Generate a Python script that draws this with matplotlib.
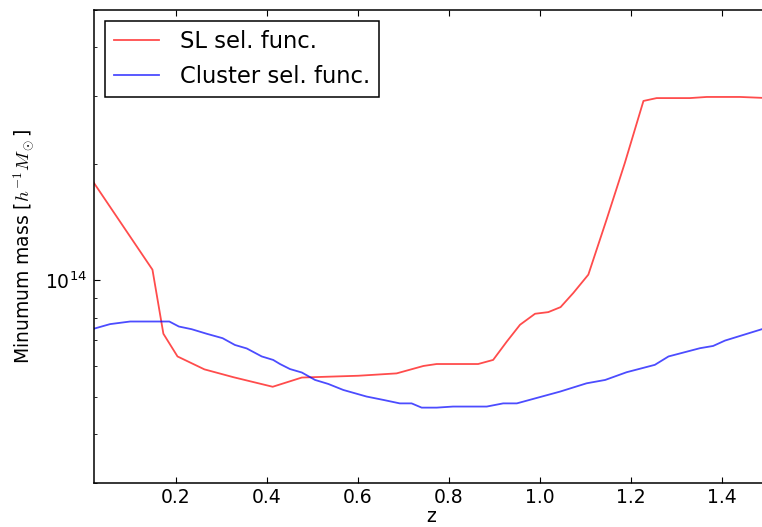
import matplotlib
matplotlib.use("Agg")
import matplotlib.pyplot as plt
from matplotlib.ticker import NullFormatter, LogLocator

# ---- data ----
z_sl = [0.02, 0.149, 0.173, 0.204, 0.263, 0.327, 0.413, 0.477, 0.539, 0.601,
        0.685, 0.744, 0.773, 0.864, 0.897, 0.927, 0.956, 0.989, 1.018, 1.045,
        1.073, 1.106, 1.146, 1.186, 1.227, 1.256, 1.329, 1.366, 1.439, 1.5]
m_sl = [1.79e14, 1.066e14, 7.28e13, 6.36e13, 5.89e13, 5.62e13, 5.31e13, 5.61e13, 5.64e13, 5.67e13,
        5.75e13, 6.01e13, 6.08e13, 6.08e13, 6.23e13, 6.95e13, 7.68e13, 8.20e13, 8.28e13, 8.53e13,
        9.28e13, 1.035e14, 1.436e14, 2.01e14, 2.91e14, 2.96e14, 2.96e14, 2.98e14, 2.98e14, 2.96e14]

z_cl = [0.02, 0.056, 0.100, 0.186, 0.207, 0.235, 0.268, 0.303, 0.330, 0.356,
        0.389, 0.414, 0.429, 0.451, 0.477, 0.506, 0.535, 0.568, 0.619, 0.656,
        0.692, 0.718, 0.740, 0.773, 0.809, 0.883, 0.919, 0.949, 0.985, 1.044,
        1.102, 1.143, 1.190, 1.252, 1.282, 1.351, 1.380, 1.406, 1.487, 1.5]
m_cl = [7.50e13, 7.71e13, 7.83e13, 7.83e13, 7.60e13, 7.48e13, 7.28e13, 7.09e13, 6.81e13, 6.67e13,
        6.36e13, 6.23e13, 6.08e13, 5.90e13, 5.78e13, 5.53e13, 5.40e13, 5.21e13, 5.01e13, 4.91e13,
        4.81e13, 4.81e13, 4.69e13, 4.69e13, 4.72e13, 4.72e13, 4.81e13, 4.81e13, 4.94e13, 5.16e13,
        5.42e13, 5.53e13, 5.79e13, 6.05e13, 6.36e13, 6.68e13, 6.77e13, 6.99e13, 7.48e13, 7.55e13]

labels = ["SL sel. func.", "Cluster sel. func."]
x_ticks = [0.2, 0.4, 0.6, 0.8, 1.0, 1.2, 1.4]

plt.rcParams.update({
    "font.family": "DejaVu Sans",
    "font.size": 13.5,
    "mathtext.fontset": "cm",
    "xtick.direction": "in",
    "ytick.direction": "in",
    "xtick.top": True,
    "ytick.right": True,
    "xtick.major.size": 4.5,
    "ytick.major.size": 4.5,
    "xtick.minor.size": 2.3,
    "ytick.minor.size": 2.3,
    "xtick.major.pad": 4,
    "ytick.major.pad": 5,
    "axes.linewidth": 1.1,
})

fig = plt.figure(figsize=(7.62, 5.27), dpi=100)
fig.patch.set_facecolor("white")
ax = fig.add_axes([93.7 / 762, 44.3 / 527, 674.1 / 762, 472.7 / 527])

ax.plot(z_sl, m_sl, color="r", alpha=0.7, lw=1.3, label=labels[0])
ax.plot(z_cl, m_cl, color="b", alpha=0.7, lw=1.3, label=labels[1])

ax.set_yscale("log")
ax.set_xlim(0.02, 1.5)
ax.set_ylim(3e13, 5e14)
ax.set_xticks(x_ticks)
ax.set_xticklabels([f"{t:.1f}" for t in x_ticks])
ax.yaxis.set_minor_locator(LogLocator(base=10, subs=range(2, 10)))
ax.yaxis.set_minor_formatter(NullFormatter())

ax.set_xlabel("z", labelpad=0)
ax.set_ylabel(r"Minumum mass [$h^{-1}M_\odot$]", labelpad=6)

leg = ax.legend(loc="upper left", fontsize=16.3, fancybox=False, framealpha=1,
                edgecolor="black", borderpad=0.4, labelspacing=0.5,
                handlelength=2.0, handletextpad=0.9, borderaxespad=0.5)
leg.get_frame().set_linewidth(1.1)

fig.savefig("out.png", dpi=100, facecolor="white")
